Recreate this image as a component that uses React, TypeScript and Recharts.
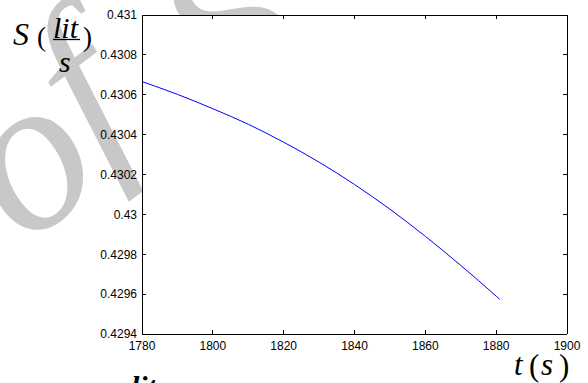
import { CartesianGrid, Line, LineChart, XAxis, YAxis } from "recharts"

// time (s) and flow S (lit/s)
const times = [1780, 1790, 1800, 1810, 1820, 1830, 1840, 1850, 1860, 1870, 1880, 1881]
const flow = [
  0.430666, 0.430602, 0.43053, 0.430452, 0.430362, 0.430262, 0.43015, 0.430026, 0.42989, 0.429744, 0.42959,
  0.429574,
]

const xTicks = [1780, 1800, 1820, 1840, 1860, 1880, 1900]
const yTicks = [0.4294, 0.4296, 0.4298, 0.43, 0.4302, 0.4304, 0.4306, 0.4308, 0.431]
const yTickLabels = ["0.4294", "0.4296", "0.4298", "0.43", "0.4302", "0.4304", "0.4306", "0.4308", "0.431"]

const data = times.map((t, i) => ({ t, s: flow[i] }))

const tickFont = { fontSize: 12, fontFamily: "Liberation Sans, Arial, sans-serif", fill: "#000" }
const serif = "Liberation Serif, Times New Roman, serif"
const boxLine = { stroke: "#000", shapeRendering: "crispEdges" }

const yLabel = (v: number) => {
  const i = yTicks.findIndex((y) => Math.abs(y - v) < 1e-9)
  return i >= 0 ? yTickLabels[i] : ""
}

// grey watermark letters behind the figure
const mark = { fontFamily: serif, fontStyle: "italic", fontSize: 220, fill: "#c8c8c8" } as const
const turn = "rotate(-37 23 247)"

export default function App() {
  return (
    <div style={{ position: "absolute", left: 0, top: 0, width: 588, height: 383, overflow: "hidden", background: "#fff" }}>
      <svg width={588} height={383} style={{ position: "absolute", left: 0, top: 0 }}>
        <text x={23} y={247} transform={turn} {...mark}>o</text>
        <text x={133} y={247} transform={`translate(-12 -15) ${turn}`} {...mark}>f</text>
        <text x={249} y={247} transform={`translate(25 5) ${turn}`} {...mark}>S</text>
        {/* y label: S (lit / s) */}
        <g fontFamily={serif} fill="#000">
          <text x={13} y={45} fontSize={32} fontStyle="italic">S</text>
          <text x={37} y={46} fontSize={27}>(</text>
          <text x={53} y={38} fontSize={30} fontStyle="italic">lit</text>
          <line x1={53} x2={80} y1={39.5} y2={39.5} stroke="#000" strokeWidth={1.3} />
          <text x={59} y={72} fontSize={30} fontStyle="italic">s</text>
          <text x={83} y={46} fontSize={27}>)</text>
        </g>
        {/* x label: t (s) */}
        <g fontFamily={serif} fill="#000">
          <text x={514} y={375} fontSize={31} fontStyle="italic">t</text>
          <text x={529} y={376} fontSize={31}>(</text>
          <text x={541} y={375} fontSize={31} fontStyle="italic">s</text>
          <text x={559} y={376} fontSize={31}>)</text>
        </g>
        <text x={131} y={397} fontFamily={serif} fontSize={30} fontStyle="italic" fontWeight="bold" fill="#000">
          lit
        </text>
      </svg>
      <div style={{ position: "absolute", left: 0, top: 0 }}>
        <LineChart width={588} height={383} data={data} margin={{ top: 14, right: 20, bottom: 0, left: 0 }}>
          <CartesianGrid horizontal={false} vertical={false} fill="#fff" />
          <XAxis
            dataKey="t"
            type="number"
            domain={[1780, 1900]}
            ticks={xTicks}
            allowDataOverflow
            height={49}
            tickSize={-4}
            tickMargin={11}
            tick={tickFont}
            axisLine={boxLine}
            tickLine={boxLine}
          />
          <XAxis
            xAxisId="top"
            dataKey="t"
            orientation="top"
            type="number"
            domain={[1780, 1900]}
            ticks={xTicks}
            allowDataOverflow
            height={1}
            tickSize={-4}
            tickFormatter={() => ""}
            axisLine={boxLine}
            tickLine={boxLine}
          />
          <YAxis
            type="number"
            domain={[0.4294, 0.431]}
            ticks={yTicks}
            allowDataOverflow
            width={142}
            tickSize={-4}
            tickMargin={9}
            tickFormatter={yLabel}
            tick={tickFont}
            axisLine={boxLine}
            tickLine={boxLine}
          />
          <YAxis
            yAxisId="right"
            orientation="right"
            type="number"
            domain={[0.4294, 0.431]}
            ticks={yTicks}
            allowDataOverflow
            width={1}
            tickSize={-4}
            tickFormatter={() => ""}
            axisLine={boxLine}
            tickLine={boxLine}
          />
          {/* invisible copy so the top/right box axes get drawn */}
          <Line
            xAxisId="top"
            yAxisId="right"
            dataKey="s"
            stroke="none"
            dot={false}
            activeDot={false}
            legendType="none"
            isAnimationActive={false}
          />
          <Line
            type="monotone"
            dataKey="s"
            stroke="#0000ff"
            strokeWidth={1}
            dot={false}
            isAnimationActive={false}
          />
        </LineChart>
      </div>
    </div>
  )
}
